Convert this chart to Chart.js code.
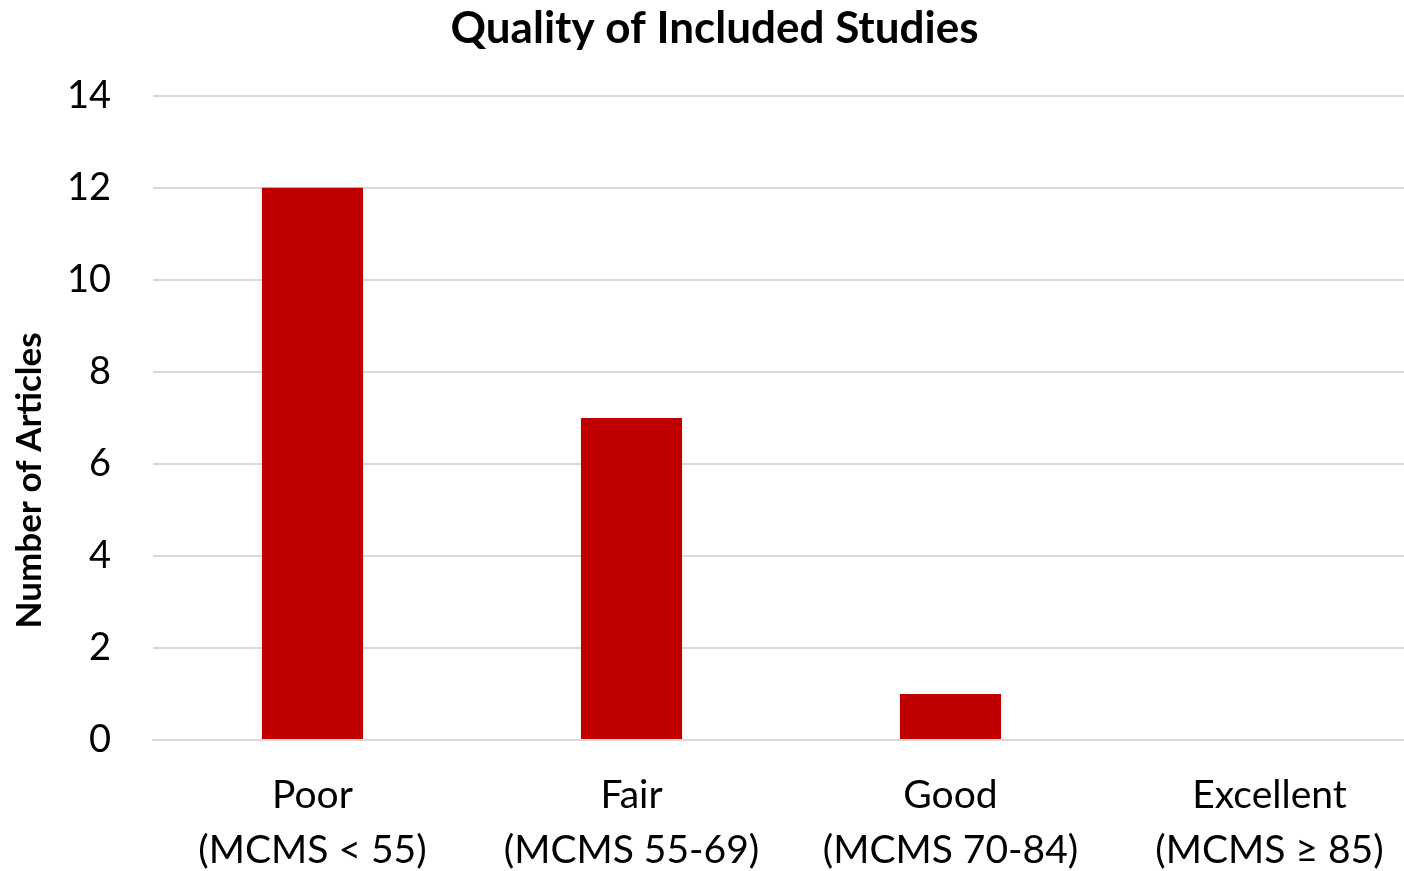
<!DOCTYPE html>
<html lang="en">
<head>
  <meta charset="UTF-8" />
  <title>Quality of Included Studies</title>
  <script src="https://cdn.jsdelivr.net/npm/chart.js"></script>
  <style>
    html, body {
      margin: 0;
      padding: 0;
      background: #fff;
      overflow: hidden;
    }
    /* the reference is cropped on the right, so the chart runs a bit past the window */
    .chart-container {
      width: 1429px;
      height: 871px;
    }
  </style>
</head>
<body>
  <div class="chart-container">
    <canvas id="qualityChart"></canvas>
  </div>

  <script>
    // Data
    const categories = [
      ['Poor', '(MCMS < 55)'],
      ['Fair', '(MCMS 55-69)'],
      ['Good', '(MCMS 70-84)'],
      ['Excellent', '(MCMS \u2265 85)']
    ];
    const articleCounts = [12, 7, 1, 0];
    const yTicks = [0, 2, 4, 6, 8, 10, 12, 14];
    const yAxisTitle = 'Number of Articles';

    const fontFamily = 'Lato, "Open Sans", sans-serif';

    // y axis title sits a bit below the middle of the axis in the reference,
    // so it is drawn here rather than by the scale
    const yTitlePlugin = {
      id: 'yTitle',
      afterDraw(chart) {
        const c = chart.ctx;
        const area = chart.chartArea;
        c.save();
        c.translate(30, area.top + (area.bottom - area.top) * 0.597);
        c.rotate(-Math.PI / 2);
        c.font = 'bold 35px ' + fontFamily;
        c.fillStyle = '#000';
        c.textAlign = 'center';
        c.textBaseline = 'middle';
        c.fillText(yAxisTitle, 0, 0);
        c.restore();
      }
    };

    const ctx = document.getElementById('qualityChart').getContext('2d');
    new Chart(ctx, {
      type: 'bar',
      data: {
        labels: categories,
        datasets: [{
          label: yAxisTitle,
          data: articleCounts,
          backgroundColor: '#C00000',
          borderWidth: 0,
          categoryPercentage: 1,
          barPercentage: 0.317
        }]
      },
      options: {
        responsive: true,
        maintainAspectRatio: false,
        animation: false,
        layout: { padding: 0 },
        plugins: {
          legend: { display: false },
          tooltip: { enabled: false },
          title: {
            display: true,
            text: 'Quality of Included Studies',
            color: '#000',
            font: { family: fontFamily, size: 44, weight: 'bold' },
            padding: { top: 2, bottom: 41 }
          }
        },
        scales: {
          x: {
            grid: { display: false, drawTicks: false },
            border: { display: true, color: '#d9d9d9', width: 2 },
            ticks: {
              color: '#000',
              font: { family: fontFamily, size: 39, lineHeight: 1.41 },
              padding: 28,
              maxRotation: 0,
              autoSkip: false
            },
            afterFit: (scale) => { scale.height = 131; }
          },
          y: {
            min: 0,
            max: 14,
            afterBuildTicks: (scale) => {
              scale.ticks = yTicks.map(v => ({ value: v }));
            },
            grid: { color: '#d9d9d9', lineWidth: 2, drawTicks: false },
            border: { display: false },
            ticks: {
              color: '#000',
              font: { family: fontFamily, size: 38 },
              padding: 42
            },
            title: { display: false },
            afterFit: (scale) => { scale.width = 153; }
          }
        }
      },
      plugins: [yTitlePlugin]
    });
  </script>
</body>
</html>
